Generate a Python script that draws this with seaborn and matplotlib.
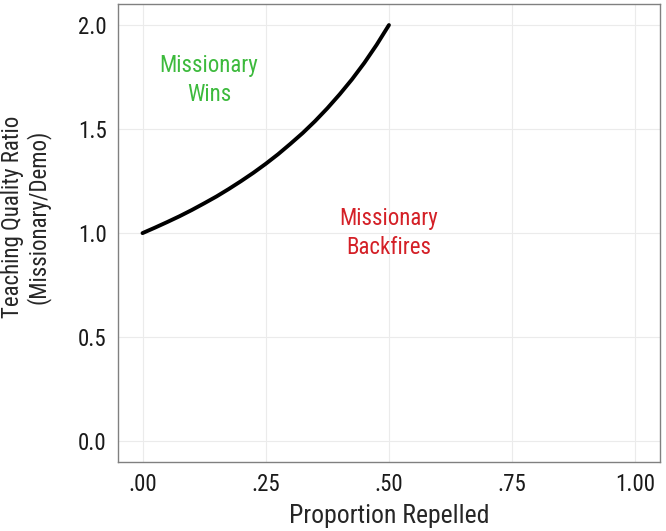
import matplotlib.pyplot as plt
import seaborn as sns
import pandas as pd

# values
proportion = [0.000, 0.025, 0.050, 0.075, 0.100, 0.125, 0.150, 0.175, 0.200, 0.225, 0.250,
              0.275, 0.300, 0.325, 0.350, 0.375, 0.400, 0.425, 0.450, 0.475, 0.500]
ratio = [1.000, 1.026, 1.053, 1.081, 1.111, 1.143, 1.176, 1.212, 1.250, 1.290, 1.333,
         1.379, 1.429, 1.481, 1.538, 1.600, 1.667, 1.739, 1.818, 1.905, 2.000]

x_ticks = [0, 0.25, 0.5, 0.75, 1.0]
x_tick_labels = ['.00', '.25', '.50', '.75', '1.00']
y_ticks = [0.0, 0.5, 1.0, 1.5, 2.0]

df = pd.DataFrame({'p': proportion, 'ratio': ratio})

sns.set_style('white')
plt.rcParams['font.family'] = ['Roboto Condensed', 'DejaVu Sans']

fig = plt.figure(figsize=(6.66, 5.31), dpi=100)
ax = fig.add_axes([0.177, 0.130, 0.814, 0.862])

sns.lineplot(data=df, x='p', y='ratio', ax=ax, color='black', linewidth=2.8)

ax.text(0.135, 1.735, 'Missionary\nWins', color='#3dba3d', fontsize=16.5,
        ha='center', va='center', linespacing=1.3)
ax.text(0.50, 1.0, 'Missionary\nBackfires', color='#d42027', fontsize=16.5,
        ha='center', va='center', linespacing=1.3)

ax.set_xlim(-0.05, 1.05)
ax.set_ylim(-0.1, 2.1)
ax.set_xticks(x_ticks)
ax.set_xticklabels(x_tick_labels)
ax.set_yticks(y_ticks)
ax.grid(True, color='#ebebeb', linewidth=0.8)
ax.set_axisbelow(True)
for s in ax.spines.values():
    s.set_color('#808080')
    s.set_linewidth(1.0)
ax.tick_params(labelsize=16.5, length=0, pad=8, labelcolor='#1a1a1a')
ax.set_xlabel('Proportion Repelled', fontsize=18.5, labelpad=6)
ax.set_ylabel('Teaching Quality Ratio\n(Missionary/Demo)', fontsize=16.5, linespacing=1.05)
ax.yaxis.set_label_coords(-0.125, 0.535)

fig.savefig('out.png', dpi=100)
